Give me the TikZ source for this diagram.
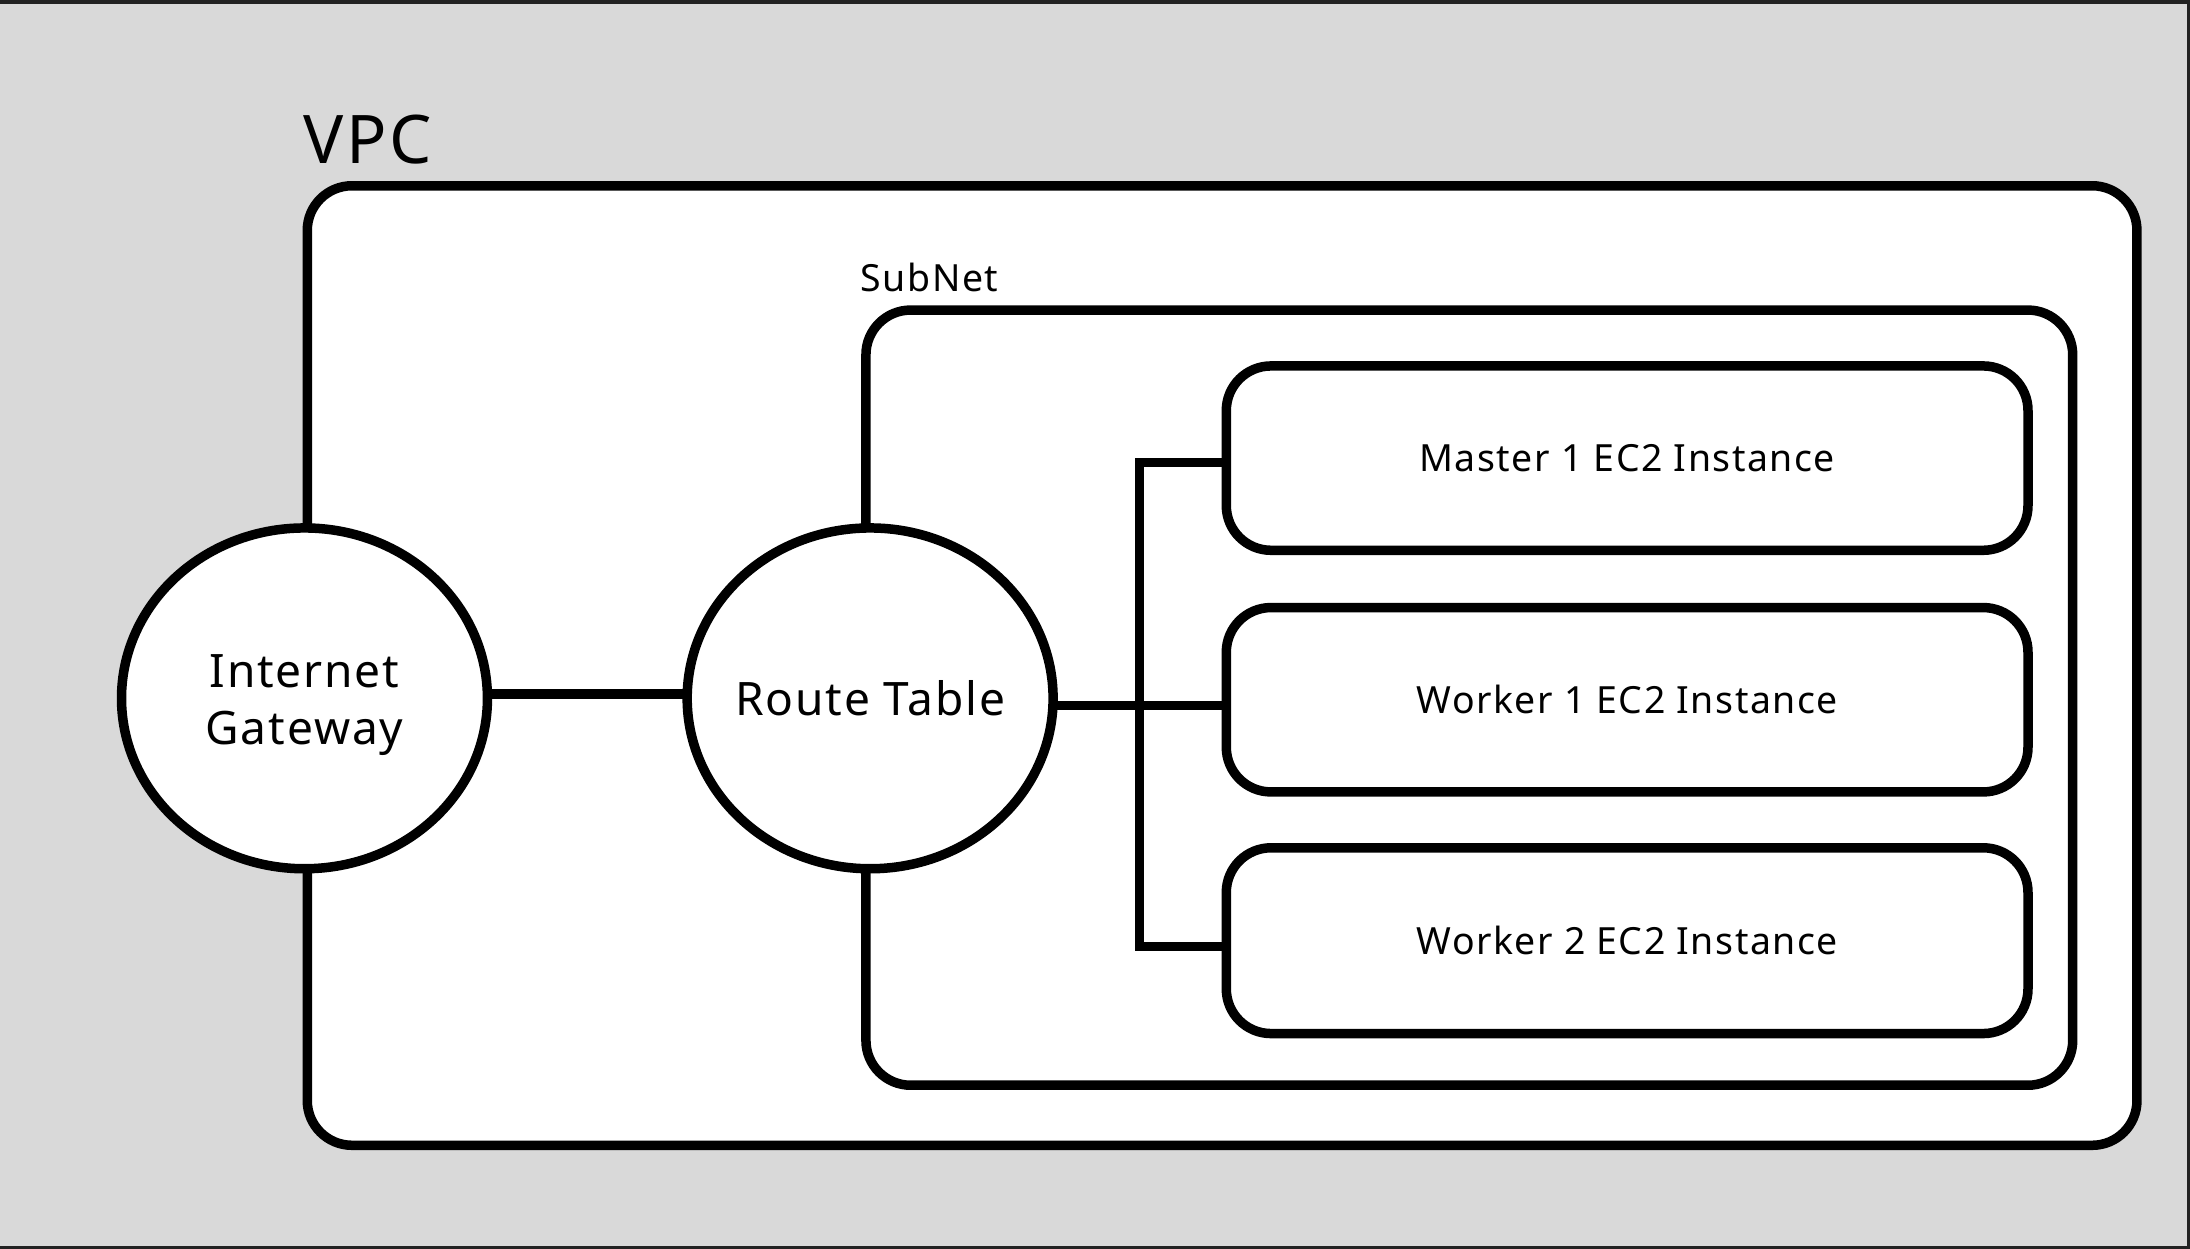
\documentclass[tikz,border=0pt]{standalone}
\usepackage{fontspec}
\setmainfont{Noto Sans}[LetterSpace=4]
\usetikzlibrary{shapes.geometric}
\definecolor{bggray}{HTML}{D9D9D9}
\definecolor{framegray}{HTML}{222222}
\tikzset{
  thick line/.style={line width=3.4pt, draw=black},
  boxstyle/.style={thick line, fill=white, rounded corners=16pt, inner sep=0pt, outer sep=0pt},
  ellstyle/.style={thick line, fill=white, ellipse, inner sep=0pt, outer sep=0pt, minimum width=131pt, minimum height=122pt},
  ellText/.style={inner sep=0pt, align=center, font=\fontsize{16.5pt}{20.5pt}\selectfont},
  insttext/.style={font=\fontsize{13.4pt}{16pt}\selectfont},
  conn/.style={line width=3.4pt, draw=black, line join=miter}
}
\begin{document}
\begin{tikzpicture}[x=0.5pt, y=-0.5pt]
\useasboundingbox (0,0) rectangle (1568,894);
\fill[bggray] (0,0) rectangle (1568,894);
\draw[framegray, line width=1.5pt] (0,1.5) -- (1568,1.5);
\draw[framegray, line width=1pt] (1567,0) -- (1567,893) -- (0,893);

% VPC
\node[anchor=base west, inner sep=0pt, font=\fontsize{24pt}{28pt}\selectfont] (vpclabel) at (217,117) {VPC};
\node[boxstyle, minimum width=655pt, minimum height=343.5pt] (vpc) at (875,476.5) {};

% SubNet
\node[anchor=base west, inner sep=0pt, font=\fontsize{13.4pt}{16pt}\selectfont] (subnetlabel) at (616,209) {SubNet};
\node[boxstyle, minimum width=432pt, minimum height=277.5pt] (subnet) at (1052,499.5) {};

% Instances
\node[boxstyle, insttext, minimum width=287pt, minimum height=66pt] (m1) at (1165,328) {Master 1 EC2 Instance};
\node[boxstyle, insttext, minimum width=287pt, minimum height=66pt] (w1) at (1165,501) {Worker 1 EC2 Instance};
\node[boxstyle, insttext, minimum width=287pt, minimum height=66.5pt] (w2) at (1165,673.5) {Worker 2 EC2 Instance};

% Ellipses
\node[ellstyle] (igw) at (218,500) {};
\node[ellText] (igwtext) at (218,505) {Internet\\Gateway};
\node[ellstyle] (rt) at (623,500) {};
\node[ellText] (rttext) at (623,500) {Route Table};

% Connectors
\coordinate (bx) at (816,500);
\draw[conn] ([yshift=1.5pt]igw.east) -- ([yshift=1.5pt]rt.west);
\draw[conn] ([yshift=-2.5pt]rt.east) -- ([yshift=-2.5pt]rt.east -| w1.west);
\draw[conn] ([yshift=-1.5pt]m1.west) -- ([yshift=-1.5pt]m1.west -| bx) -- ([yshift=-2pt]w2.west -| bx) -- ([yshift=-2pt]w2.west);
\end{tikzpicture}
\end{document}
